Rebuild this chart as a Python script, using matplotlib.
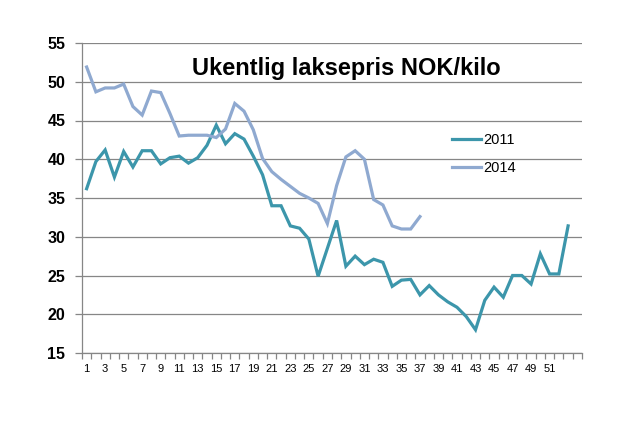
import matplotlib
matplotlib.use("Agg")
import matplotlib.pyplot as plt
import numpy as np

weeks_2011 = list(range(1, 54))
price_2011 = [36.2, 39.7, 41.2, 37.7, 41.0, 39.0, 41.1, 41.1, 39.4, 40.2,
              40.4, 39.5, 40.2, 41.8, 44.4, 42.0, 43.3, 42.6, 40.4, 38.0,
              34.0, 34.0, 31.4, 31.1, 29.7, 24.9, 28.5, 32.1, 26.2, 27.5,
              26.4, 27.1, 26.7, 23.6, 24.4, 24.5, 22.5, 23.7, 22.5, 21.6,
              20.9, 19.7, 18.0, 21.8, 23.5, 22.2, 25.0, 25.0, 23.9, 27.8,
              25.2, 25.2, 31.4]
weeks_2014 = list(range(1, 38))
price_2014 = [51.9, 48.7, 49.2, 49.2, 49.7, 46.8, 45.7, 48.8, 48.6, 45.9,
              43.0, 43.1, 43.1, 43.1, 42.8, 43.9, 47.2, 46.2, 43.8, 40.1,
              38.4, 37.4, 36.5, 35.6, 35.0, 34.3, 31.7, 36.6, 40.3, 41.1,
              40.0, 34.8, 34.1, 31.4, 31.0, 31.0, 32.6]
n_categories = 54
x_labels = list(range(1, 52, 2))
y_ticks = list(range(15, 56, 5))

title = "Ukentlig laksepris NOK/kilo"
c2011 = '#3C96AB'
c2014 = '#8FA9D0'
grid_col = '#868686'

plt.rcParams['font.family'] = ['Liberation Sans', 'DejaVu Sans']

fig = plt.figure(figsize=(6.35, 4.26), dpi=100)
ax = fig.add_axes([82/635, 1-353/426, 500/635, 310/426])

ax.plot(weeks_2011, price_2011, color=c2011, lw=2.3, label='2011', solid_joinstyle='miter')
ax.plot(weeks_2014, price_2014, color=c2014, lw=2.3, label='2014', solid_joinstyle='miter')

ax.set_xlim(0.5, n_categories + 0.5)
ax.set_ylim(15, 55)
ax.set_yticks(y_ticks)
ax.set_yticklabels([str(v) for v in y_ticks], fontsize=11.5, fontweight='bold')
ax.yaxis.grid(True, color=grid_col, lw=0.9)
ax.set_axisbelow(True)
ax.tick_params(axis='y', length=5, width=0.9, color=grid_col, pad=7)

ax.set_xticks(x_labels)
ax.set_xticklabels([str(v) for v in x_labels], fontsize=8)
ax.set_xticks(np.arange(0.5, n_categories + 1), minor=True)
ax.tick_params(axis='x', which='major', length=0, pad=8)
ax.tick_params(axis='x', which='minor', length=4, width=0.9, color=grid_col)

for s in ['top', 'right']:
    ax.spines[s].set_visible(False)
for s in ['left', 'bottom']:
    ax.spines[s].set_color(grid_col)
    ax.spines[s].set_linewidth(0.9)

leg = ax.legend(loc='upper left', bbox_to_anchor=(446/635, 1-127/426),
                bbox_transform=fig.transFigure, frameon=False,
                fontsize=10.5, handlelength=2.0, handletextpad=0.15,
                labelspacing=0.95, borderaxespad=0)

fig.text(346/635, 1-68/426, title, ha='center', va='center',
         fontsize=17, fontweight='bold')

fig.savefig('out.png', dpi=100)
